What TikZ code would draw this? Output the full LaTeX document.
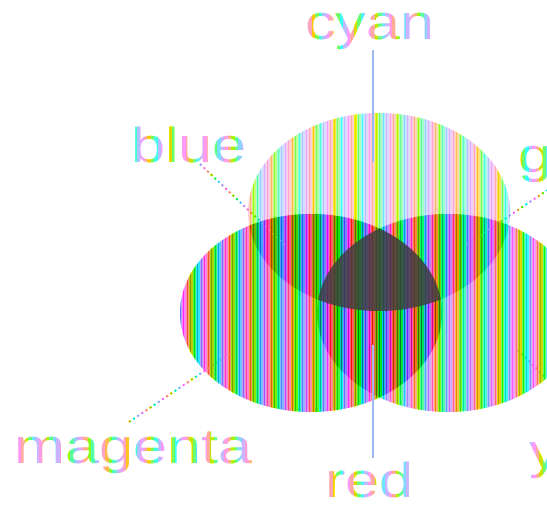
\documentclass[tikz,border=0pt]{standalone}
\usepackage{fontspec}
\setmainfont{Liberation Sans}
\definecolor{gC}{gray}{0.87}
\definecolor{gM}{gray}{0.70}
\definecolor{gY}{gray}{0.76}
\definecolor{gCM}{gray}{0.56}
\definecolor{gCY}{gray}{0.64}
\definecolor{gMY}{gray}{0.56}
\definecolor{gCMY}{gray}{0.25}
\definecolor{labelgray}{gray}{0.76}
\definecolor{linegray}{gray}{0.62}
\definecolor{axisline}{rgb}{0.62,0.72,0.95}
\begin{document}
\begin{tikzpicture}[x=1pt,y=-1pt,
  lbl/.style={inner sep=0pt, anchor=base west, text=labelgray, font=\fontsize{49}{49}\selectfont},
  leader/.style={draw=axisline, line width=1.3pt},
  dotleader/.style={draw=linegray, line width=1.8pt, dash pattern=on 2pt off 3pt},
  shadeline/.style={draw=black, line width=1.3pt}]
\useasboundingbox (0,0) rectangle (547,506);
\clip (0,0) rectangle (547,506);
\fill[white] (0,0) rectangle (547,506);

% regions
\fill[gC] (379,212) ellipse [x radius=131pt, y radius=99pt];
\fill[gM] (311,313) ellipse [x radius=131pt, y radius=99pt];
\fill[gY] (448,313) ellipse [x radius=131pt, y radius=99pt];
\begin{scope}
  \clip (311,313) ellipse [x radius=131pt, y radius=99pt];
  \fill[gCM] (379,212) ellipse [x radius=131pt, y radius=99pt];
\end{scope}
\begin{scope}
  \clip (448,313) ellipse [x radius=131pt, y radius=99pt];
  \fill[gCY] (379,212) ellipse [x radius=131pt, y radius=99pt];
\end{scope}
\begin{scope}
  \clip (311,313) ellipse [x radius=131pt, y radius=99pt];
  \fill[gMY] (448,313) ellipse [x radius=131pt, y radius=99pt];
\end{scope}

% darker fine lines inside each disc
\begin{scope}
  \clip (379,212) ellipse [x radius=131pt, y radius=99pt];
  \foreach \k in {70,...,150} {\draw[shadeline, draw opacity=0.12] (\k*3.5+1.75,100) -- ++(0,230);}
\end{scope}
\begin{scope}
  \clip (311,313) ellipse [x radius=131pt, y radius=99pt];
  \foreach \k in {50,...,130} {\draw[shadeline, draw opacity=0.28] (\k*3.5+1.75,200) -- ++(0,230);}
\end{scope}
\begin{scope}
  \clip (448,313) ellipse [x radius=131pt, y radius=99pt];
  \foreach \k in {88,...,157} {\draw[shadeline, draw opacity=0.22] (\k*3.5+1.75,200) -- ++(0,230);}
\end{scope}

% labels
\node[lbl] (cyanL) at (305,39) {\scalebox{1.25}[1]{cyan}};
\node[lbl] (blueL) at (131,162) {\scalebox{1.25}[1]{blue}};
\node[lbl] (greenL) at (518,172) {\scalebox{1.25}[1]{green}};
\node[lbl] (magentaL) at (14,463) {\scalebox{1.25}[1]{magenta}};
\node[lbl] (redL) at (325,497) {\scalebox{1.25}[1]{red}};
\node[lbl] (yellowL) at (529,468) {\scalebox{1.25}[1]{yellow}};

% leader end points
\coordinate (cyanA) at (373,50);
\coordinate (cyanB) at (373,162);
\coordinate (blueA) at (200,164);
\coordinate (blueB) at (285,245);
\coordinate (greenA) at (552,187);
\coordinate (greenB) at (466,245);
\coordinate (magentaA) at (129,422);
\coordinate (magentaB) at (231,353);
\coordinate (redA) at (373,345);
\coordinate (redB) at (373,458);
\coordinate (yellowA) at (518,350);
\coordinate (yellowB) at (545,377);

\draw[dotleader] (blueA) -- (blueB);
\draw[dotleader] (greenA) -- (greenB);
\draw[dotleader] (magentaA) -- (magentaB);
\draw[dotleader] (yellowA) -- (yellowB);

% colour fringes (vertical stripes)
\begin{scope}[blend mode=color]
  \foreach \k in {0,...,157} {
    \pgfmathsetmacro\h{mod(\k*0.17,1)}
    \definecolor{stripe}{hsb}{\h,1,1}
    \fill[stripe] (\k*3.5,0) rectangle ++(3.5,506);
  }
\end{scope}

% dark centre (cyan, magenta and yellow together), nearly plain grey
\begin{scope}
  \clip (311,313) ellipse [x radius=131pt, y radius=99pt];
  \clip (448,313) ellipse [x radius=131pt, y radius=99pt];
  \fill[gCMY, fill opacity=0.85] (379,212) ellipse [x radius=131pt, y radius=99pt];
\end{scope}
\draw[leader] (cyanA) -- (cyanB);
\draw[leader] (redA) -- (redB);
\end{tikzpicture}
\end{document}
